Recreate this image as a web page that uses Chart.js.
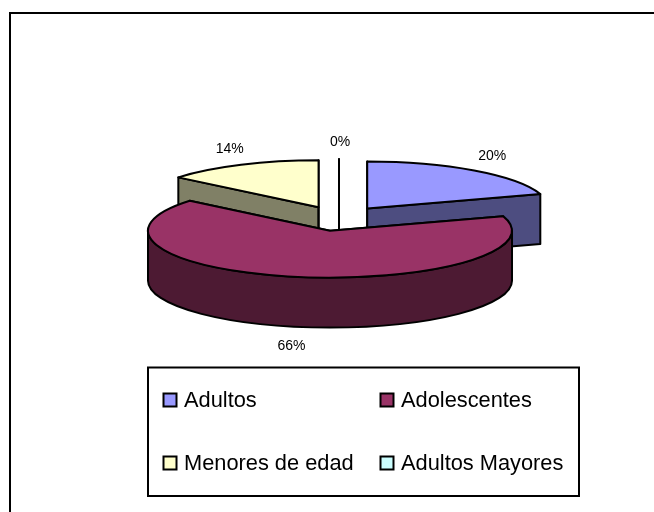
<!DOCTYPE html>
<html>
<head>
<meta charset="utf-8">
<title>Grupos de edad</title>
<script src="https://cdn.jsdelivr.net/npm/chart.js@4"></script>
<style>
  html, body { margin: 0; padding: 0; background: #fff; }
  canvas { display: block; }
</style>
</head>
<body>
<canvas id="pie" width="654" height="512"></canvas>
<script>
const categories = ['Adultos', 'Adolescentes', 'Menores de edad', 'Adultos Mayores'];
const values = [20, 66, 14, 0];
const topColors = ['#9999FF', '#993366', '#FFFFCC', '#CCFFFF'];
const sideColors = ['#4D4D80', '#4D1A33', '#808066', '#668080'];

const squash = 0.258; // tilt of the pie
const depth = 50;
const labelFont = '14px "Liberation Sans", Arial, sans-serif';
const legendFont = '21.8px "Liberation Sans", Arial, sans-serif';

// the pie is a normal Chart.js arc set, this only paints it tilted with a wall below
const tiltedPie = {
  id: 'tiltedPie',
  beforeDatasetsDraw(chart) {
    const { ctx } = chart;
    const arcs = chart.getDatasetMeta(0).data;
    const order = arcs.map((arc, i) => i).sort((a, b) => apex(arcs[a]).y - apex(arcs[b]).y);
    ctx.save();
    ctx.lineWidth = 2;
    ctx.lineJoin = 'round';
    ctx.strokeStyle = '#000';
    order.forEach((i) => drawSlice(ctx, arcs[i], i));
    ctx.restore();
    return false;
  },
  beforeDatasetDraw() {
    return false;
  },
  afterDraw(chart) {
    const { ctx } = chart;
    const arcs = chart.getDatasetMeta(0).data;
    ctx.save();
    ctx.fillStyle = '#000';
    ctx.font = labelFont;
    ctx.textAlign = 'center';
    ctx.textBaseline = 'middle';
    arcs.forEach((arc, i) => {
      const mid = (arc.startAngle + arc.endAngle) / 2;
      const rim = rimPoint(arc, mid);
      const below = Math.sin(mid) > 0 ? depth : 0;
      ctx.fillText(values[i] + '%', rim.x + 1 + 29 * Math.cos(mid), rim.y + 1 + below + 18.5 * Math.sin(mid));
    });
    ctx.restore();
    drawFrame(ctx);
    drawLegend(ctx);
  },
};

function apex(arc) {
  const mid = (arc.startAngle + arc.endAngle) / 2;
  const off = arc.options.offset;
  return { x: arc.x + Math.cos(mid) * off, y: arc.y + Math.sin(mid) * off * squash };
}

function rimPoint(arc, angle) {
  const a = apex(arc);
  return {
    x: a.x + Math.cos(angle) * arc.outerRadius,
    y: a.y + Math.sin(angle) * arc.outerRadius * squash,
  };
}

function drawSlice(ctx, arc, i) {
  const a = apex(arc);
  const r = arc.outerRadius;
  const start = arc.startAngle;
  const end = arc.endAngle;

  // cut faces
  ctx.fillStyle = sideColors[i];
  [start, end].forEach((angle) => {
    const p = rimPoint(arc, angle);
    ctx.beginPath();
    ctx.moveTo(a.x, a.y);
    ctx.lineTo(p.x, p.y);
    ctx.lineTo(p.x, p.y + depth);
    ctx.lineTo(a.x, a.y + depth);
    ctx.closePath();
    ctx.fill();
    ctx.stroke();
  });

  // outer wall, only the part facing the viewer
  const from = Math.max(start, 0);
  const to = Math.min(end, Math.PI);
  if (to > from) {
    ctx.beginPath();
    ctx.ellipse(a.x, a.y, r, r * squash, 0, from, to);
    ctx.ellipse(a.x, a.y + depth, r, r * squash, 0, to, from, true);
    ctx.closePath();
    ctx.fill();
    ctx.stroke();
  }

  // top
  ctx.fillStyle = topColors[i];
  ctx.beginPath();
  ctx.moveTo(a.x, a.y);
  ctx.ellipse(a.x, a.y, r, r * squash, 0, start, end);
  ctx.closePath();
  ctx.fill();
  ctx.stroke();
}

function drawFrame(ctx) {
  ctx.save();
  ctx.strokeStyle = '#000';
  ctx.lineWidth = 2;
  // only the top and left of the outer frame are inside the picture
  ctx.beginPath();
  ctx.moveTo(654, 13);
  ctx.lineTo(10, 13);
  ctx.lineTo(10, 512);
  ctx.stroke();
  ctx.strokeRect(148, 367.5, 431, 128.5);
  ctx.restore();
}

function drawLegend(ctx) {
  const columns = [163.5, 380.5];
  const rows = [400, 463];
  ctx.save();
  ctx.font = legendFont;
  ctx.textAlign = 'left';
  ctx.textBaseline = 'middle';
  categories.forEach((name, i) => {
    const x = columns[i % 2];
    const y = rows[Math.floor(i / 2)];
    ctx.fillStyle = topColors[i];
    ctx.fillRect(x, y - 6.5, 13, 13);
    ctx.strokeStyle = '#000';
    ctx.lineWidth = 2;
    ctx.strokeRect(x, y - 6.5, 13, 13);
    ctx.fillStyle = '#000';
    ctx.fillText(name, x + 20.5, y + 1);
  });
  ctx.restore();
}

new Chart(document.getElementById('pie'), {
  type: 'pie',
  data: {
    labels: categories,
    datasets: [{
      data: values,
      backgroundColor: topColors,
      borderColor: '#000',
      offset: 48,
    }],
  },
  options: {
    responsive: false,
    animation: false,
    radius: 182,
    layout: { padding: { left: 24, top: 0, right: 0, bottom: 75 } },
    plugins: {
      legend: { display: false },
      tooltip: { enabled: false },
    },
  },
  plugins: [tiltedPie],
});
</script>
</body>
</html>
